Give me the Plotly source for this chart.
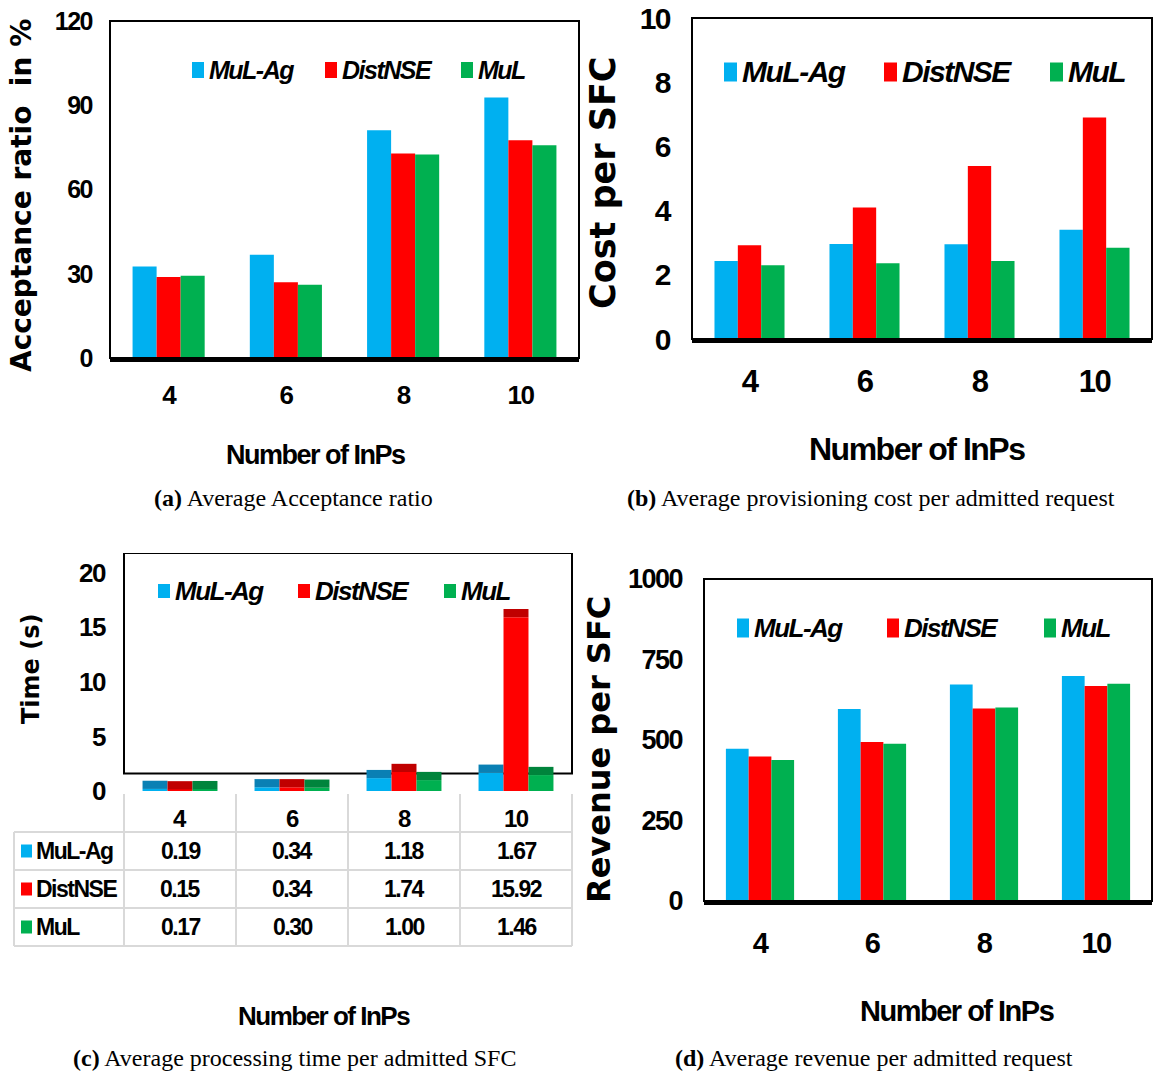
import plotly.graph_objects as go

# ---------------- data ----------------
categories = ["4", "6", "8", "10"]
series_names = ["MuL-Ag", "DistNSE", "MuL"]

acceptance_mulag = [32.6, 36.8, 81.1, 92.8]
acceptance_distnse = [28.8, 27.0, 72.8, 77.5]
acceptance_mul = [29.3, 26.1, 72.5, 75.8]

cost_mulag = [2.43, 2.96, 2.95, 3.40]
cost_distnse = [2.92, 4.10, 5.39, 6.90]
cost_mul = [2.30, 2.36, 2.43, 2.84]

time_mulag = [0.19, 0.34, 1.18, 1.67]
time_distnse = [0.15, 0.34, 1.74, 15.92]
time_mul = [0.17, 0.30, 1.00, 1.46]

revenue_mulag = [473, 596, 672, 699]
revenue_distnse = [449, 494, 598, 668]
revenue_mul = [438, 488, 601, 675]

acc_ticks = [0, 30, 60, 90, 120]
cost_ticks = [0, 2, 4, 6, 8, 10]
time_ticks = [0, 5, 10, 15, 20]
rev_ticks = [0, 250, 500, 750, 1000]

# ---------------- style ----------------
W, H = 1153, 1075
COLORS = ["#00B0F0", "#FF0000", "#00B050"]
DARK = ["#0A80B4", "#C00000", "#00843C"]
COND = "Liberation Sans Narrow, Arial Narrow, Liberation Sans, Arial, sans-serif"
HEAVY = "DejaVu Sans, Liberation Sans, Arial, sans-serif"
SERIF = "Liberation Serif, Times New Roman, DejaVu Serif, serif"


def cond(t):
    # tighten letter spacing to imitate the narrow face of the original
    return f'<span style="letter-spacing:-1.5px">{t}</span>'


def fx(p):
    return p / W


def fy(p):
    return 1 - p / H


fig = go.Figure()

panels = [
    ("x", "y", [acceptance_mulag, acceptance_distnse, acceptance_mul], 0.205, False),
    ("x2", "y2", [cost_mulag, cost_distnse, cost_mul], 0.203, False),
    ("x3", "y3", [time_mulag, time_distnse, time_mul], 0.223, True),
    ("x4", "y4", [revenue_mulag, revenue_distnse, revenue_mul], 0.203, False),
]

CAP = 0.75
for xa, ya, data, w, caps in panels:
    for i, (name, vals) in enumerate(zip(series_names, data)):
        fig.add_trace(go.Bar(
            x=categories, y=vals, name=name, width=w, offset=-1.5 * w + i * w,
            marker=dict(color=COLORS[i], line=dict(width=0)),
            xaxis=xa, yaxis=ya, showlegend=False,
        ))
        if caps:
            fig.add_trace(go.Bar(
                x=categories, y=[CAP] * len(vals), base=vals, name=name,
                width=w, offset=-1.5 * w + i * w,
                marker=dict(color=DARK[i], line=dict(width=0)),
                xaxis=xa, yaxis=ya, showlegend=False, hoverinfo="skip",
            ))

shapes = []
annotations = []


def ann(x, y, text, size, family=COND, xanchor="center", yanchor="middle",
        angle=0, weight="bold", style="normal", color="black"):
    annotations.append(dict(
        x=fx(x), y=fy(y), xref="paper", yref="paper", text=text, showarrow=False,
        xanchor=xanchor, yanchor=yanchor, textangle=angle,
        font=dict(family=family, size=size, weight=weight, style=style, color=color),
    ))


def rect(x0, y0, x1, y1, fill):
    shapes.append(dict(
        type="rect", xref="paper", yref="paper",
        x0=fx(x0), x1=fx(x1), y0=fy(y1), y1=fy(y0),
        fillcolor=fill, line=dict(width=0),
    ))


def line(x0, y0, x1, y1, color="#D9D9D9", lw=2):
    shapes.append(dict(type="line", xref="paper", yref="paper",
                       x0=fx(x0), x1=fx(x1), y0=fy(y0), y1=fy(y1),
                       line=dict(color=color, width=lw)))


def legend(markers_x, y, size, mw, mh):
    for i, name in enumerate(series_names):
        mx = markers_x[i]
        rect(mx, y - mh / 2, mx + mw, y + mh / 2, COLORS[i])
        ann(mx + mw + 3, y, cond(name), size, xanchor="left", style="italic")


def xaxis(domain, labels=True, size=28, standoff=18, thick=True):
    return dict(domain=[fx(domain[0]), fx(domain[1])], type="category",
                automargin=False, showgrid=False, zeroline=False, ticks="",
                showticklabels=labels, ticklabelstandoff=standoff,
                tickvals=categories, ticktext=[cond(c) for c in categories],
                tickfont=dict(family=COND, size=size, weight="bold", color="black"),
                showline=thick, linecolor="black", linewidth=4)


def yaxis(domain, rng, ticks, size=28, standoff=24):
    return dict(domain=[fy(domain[1]), fy(domain[0])], range=rng,
                tickvals=ticks, ticktext=[cond(t) for t in ticks],
                automargin=False, showgrid=False, zeroline=False, ticks="",
                showline=False, ticklabelstandoff=standoff,
                tickfont=dict(family=COND, size=size, weight="bold", color="black"))


layout_axes = dict(
    xaxis=dict(xaxis((110, 579), size=26, standoff=11), anchor="y"),
    yaxis=dict(yaxis((21, 358), [0, 120], acc_ticks, size=25, standoff=17), anchor="x"),
    xaxis2=dict(xaxis((692, 1152), size=31, standoff=12), anchor="y2"),
    yaxis2=dict(yaxis((18, 339), [0, 10], cost_ticks, size=30, standoff=21), anchor="x2"),
    xaxis3=dict(xaxis((124, 572), labels=False, thick=False), anchor="y3"),
    yaxis3=dict(yaxis((553, 791), [0, 21.8], time_ticks, size=26, standoff=18), anchor="x3"),
    xaxis4=dict(xaxis((704, 1152), size=29, standoff=13), anchor="y4"),
    yaxis4=dict(yaxis((579, 901), [0, 1000], rev_ticks, size=27, standoff=21), anchor="x4"),
)

# frames
for xa in ["x", "x2", "x4"]:
    ya = xa.replace("x", "y")
    shapes.append(dict(type="rect", xref=f"{xa} domain", yref=f"{ya} domain",
                       x0=0, x1=1, y0=0, y1=1, line=dict(color="black", width=2), layer="above"))
shapes.append(dict(type="rect", xref="x3 domain", yref="y3", x0=0, x1=1, y0=1.6, y1=21.8,
                   line=dict(color="black", width=2), layer="below"))

# legends
legend([192, 325, 461], 70, 25, 12, 16)
legend([724, 884, 1050], 72, 30, 13, 19)
legend([158, 298, 444], 591, 26, 12, 14)
legend([737, 887, 1044], 628, 26, 12, 19)

# axis titles
ann(22, 196, "Acceptance ratio\u00a0 in %", 28, family=HEAVY, angle=-90)
ann(603, 183, "Cost per SFC", 35, family=HEAVY, angle=-90)
ann(31, 669, "Time (s)", 24, family=HEAVY, angle=-90)
ann(599, 750, "Revenue per SFC", 32, family=HEAVY, angle=-90)

ann(315, 455, cond("Number of InPs"), 27)
ann(917, 449, cond("Number of InPs"), 32)
ann(324, 1016, cond("Number of InPs"), 26)
ann(957, 1011, cond("Number of InPs"), 29)

# captions
ann(293, 498, "<b>(a)</b> Average Acceptance ratio", 24, family=SERIF, weight="normal")
ann(871, 498, "<b>(b)</b> Average provisioning cost per admitted request", 24, family=SERIF, weight="normal")
ann(294, 1058, "<b>(c)</b> Average processing time per admitted SFC", 24, family=SERIF, weight="normal")
ann(874, 1058, "<b>(d)</b> Average revenue per admitted request", 24, family=SERIF, weight="normal")

# data table under panel (c)
col_edges = [14, 124, 236, 348, 460, 572]
row_lines = [832, 870, 908, 946]
row_centres = [851, 889, 927]
header_y = 818
for xe in col_edges[1:]:
    line(xe, 794, xe, row_lines[-1])
line(col_edges[0], row_lines[0], col_edges[0], row_lines[-1])
for yl in row_lines:
    line(col_edges[0], yl, col_edges[-1], yl)
for j, cat in enumerate(categories):
    cx = (col_edges[j + 1] + col_edges[j + 2]) / 2
    ann(cx, header_y, cond(cat), 24)
table_rows = [time_mulag, time_distnse, time_mul]
for i, (name, vals) in enumerate(zip(series_names, table_rows)):
    yc = row_centres[i]
    rect(21, yc - 6.5, 32, yc + 6.5, COLORS[i])
    ann(34, yc, cond(name), 23, xanchor="left")
    for j, v in enumerate(vals):
        cx = (col_edges[j + 1] + col_edges[j + 2]) / 2
        ann(cx, yc, cond(f"{v:.2f}"), 23)

fig.update_layout(
    width=W, height=H, margin=dict(l=0, r=0, t=0, b=0, autoexpand=False),
    paper_bgcolor="white", plot_bgcolor="white",
    barmode="overlay", showlegend=False,
    shapes=shapes, annotations=annotations,
    **layout_axes,
)

fig.write_html("out.html")
